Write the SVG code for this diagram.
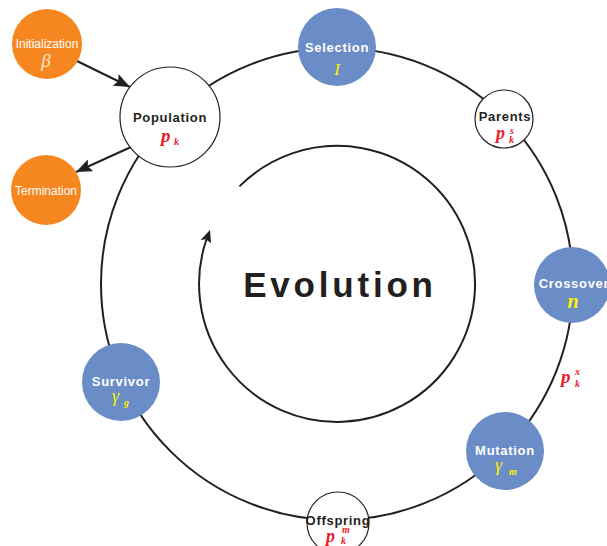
<svg xmlns="http://www.w3.org/2000/svg" width="607" height="546" viewBox="0 0 607 546">
  <style>
    .ring { fill: none; stroke: #231f20; stroke-width: 2; }
    .orange { fill: #f6861f; }
    .blue { fill: #6a8cc7; }
    .plain { fill: #ffffff; stroke: #231f20; stroke-width: 1.2; }
    .lbl { font-family: "Liberation Sans", Arial, sans-serif; font-weight: bold; font-size: 13px; letter-spacing: 0.7px; text-anchor: middle; }
    .lbl-dark { fill: #231f20; }
    .lbl-light { fill: #ffffff; }
    .small { font-family: "Liberation Sans", Arial, sans-serif; font-size: 12px; fill: #ffffff; text-anchor: middle; }
    .math { font-family: "Liberation Serif", "Times New Roman", serif; font-style: italic; }
    .idx { font-size: 10px; font-weight: bold; }
    .red { fill: #e8202a; font-weight: bold; }
    .yel { fill: #fff200; }
    .title { font-family: "Liberation Sans", Arial, sans-serif; font-weight: bold; font-size: 35px; letter-spacing: 3.8px; fill: #231f20; text-anchor: middle; }
    .arrow { stroke: #231f20; stroke-width: 2; fill: none; }
  </style>
  <defs>
    <marker id="head" markerUnits="userSpaceOnUse" markerWidth="18" markerHeight="14" refX="16" refY="6.5" orient="auto">
      <path d="M0,0 L16,6.5 L0,13 L3,6.5 z" fill="#231f20"/>
    </marker>
  </defs>

  <rect width="607" height="546" fill="#ffffff"/>

  <!-- connectors: outer cycle, inner rotation arrow, init/termination arrows -->
  <g id="connectors">
    <circle class="ring" cx="337" cy="284" r="236"/>
    <path class="ring" d="M239.4,186.4 A138,138 0 1 1 206.5,239.2"/>
    <path d="M210.0,230.0 L200.6,240.0 L205.8,239.2 L211.0,243.2 z" fill="#231f20"/>
    <line class="arrow" x1="77" y1="61" x2="130" y2="87" marker-end="url(#head)"/>
    <line class="arrow" x1="131" y1="147" x2="76" y2="172" marker-end="url(#head)"/>
  </g>

  <g id="evolution">
    <text class="title" x="340" y="297">Evolution</text>
  </g>

  <g id="initialization">
    <circle class="orange" cx="47" cy="44" r="35"/>
    <text class="small" x="47" y="48">Initialization</text>
    <text class="math" x="46" y="67" font-size="19" fill="#fde6d2" text-anchor="middle">β</text>
  </g>

  <g id="termination">
    <circle class="orange" cx="46" cy="190" r="35"/>
    <text class="small" x="46" y="195">Termination</text>
  </g>

  <g id="population">
    <circle class="plain" cx="170" cy="117" r="50"/>
    <text class="lbl lbl-dark" x="170" y="122">Population</text>
    <text class="math red" x="161" y="142" font-size="19">p</text>
    <text class="math red idx" x="174" y="145">k</text>
  </g>

  <g id="selection">
    <circle class="blue" cx="337" cy="47" r="39"/>
    <text class="lbl lbl-light" x="337" y="52">Selection</text>
    <text class="math yel" x="337" y="75" font-size="17" text-anchor="middle">I</text>
  </g>

  <g id="parents">
    <circle class="plain" cx="504" cy="119" r="29"/>
    <text class="lbl lbl-dark" x="505" y="121">Parents</text>
    <text class="math red" x="496" y="139" font-size="18">p</text>
    <text class="math red idx" x="510" y="134">s</text>
    <text class="math red idx" x="509" y="143">k</text>
  </g>

  <g id="crossover">
    <circle class="blue" cx="572" cy="285" r="38"/>
    <text class="lbl lbl-light" x="574" y="288">Crossover</text>
    <text class="math yel" x="573" y="308" font-size="20" font-weight="bold" text-anchor="middle">n</text>
  </g>

  <g id="crossover-out">
    <text class="math red" x="561" y="383" font-size="19">p</text>
    <text class="math red idx" x="575" y="375">x</text>
    <text class="math red idx" x="575" y="387">k</text>
  </g>

  <g id="mutation">
    <circle class="blue" cx="505" cy="451" r="39"/>
    <text class="lbl lbl-light" x="505" y="455">Mutation</text>
    <text class="math yel" x="495" y="471" font-size="18">γ</text>
    <text class="math yel idx" x="509" y="475">m</text>
  </g>

  <g id="offspring">
    <circle class="plain" cx="338" cy="523" r="31"/>
    <text class="lbl lbl-dark" x="338" y="525">Offspring</text>
    <text class="math red" x="326" y="542" font-size="18">p</text>
    <text class="math red idx" x="342" y="533">m</text>
    <text class="math red idx" x="341" y="544">k</text>
  </g>

  <g id="survivor">
    <circle class="blue" cx="121" cy="382" r="39"/>
    <text class="lbl lbl-light" x="121" y="386">Survivor</text>
    <text class="math yel" x="112" y="402" font-size="18">γ</text>
    <text class="math yel idx" x="124" y="406">g</text>
  </g>
</svg>
